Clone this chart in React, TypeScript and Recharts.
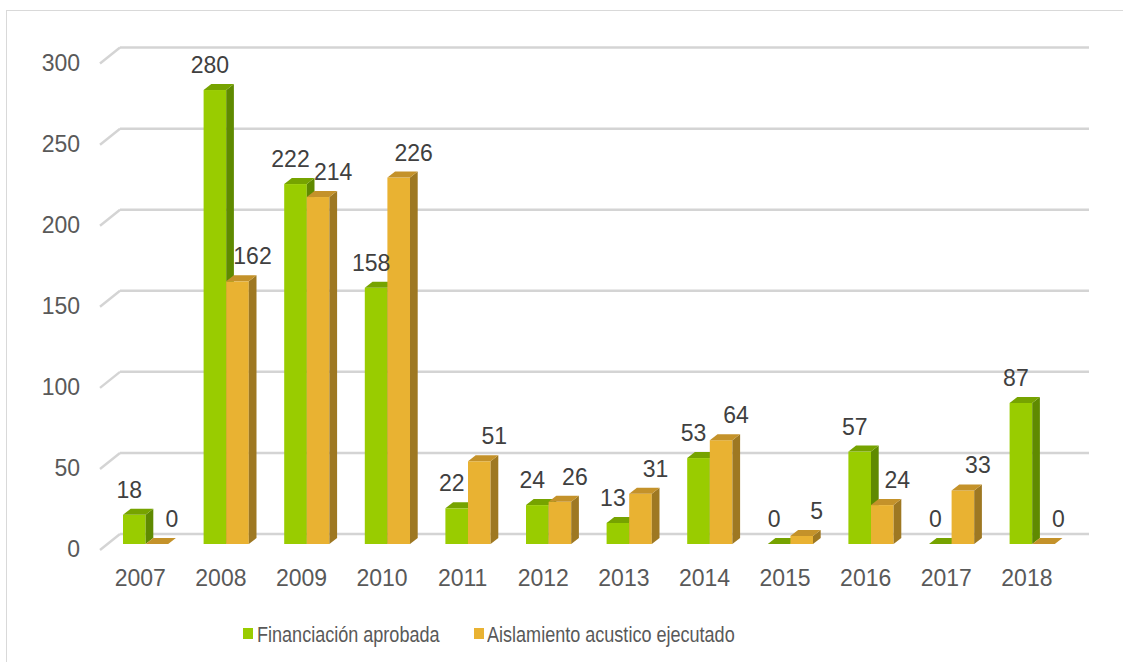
import React from "react";
import { BarChart, Bar, XAxis, YAxis, CartesianGrid, LabelList, Legend } from "recharts";

const years = ["2007", "2008", "2009", "2010", "2011", "2012", "2013", "2014", "2015", "2016", "2017", "2018"];
const financiacion = [18, 280, 222, 158, 22, 24, 13, 53, 0, 57, 0, 87];
const aislamiento = [0, 162, 214, 226, 51, 26, 31, 64, 5, 24, 33, 0];
const yTicks = [0, 50, 100, 150, 200, 250, 300];

const seriesNames = ["Financiación aprobada", "Aislamiento acustico ejecutado"];

const data = years.map((year, i) => ({
  year,
  financiacion: financiacion[i],
  aislamiento: aislamiento[i],
}));

// fake 3d look
const DX = 7.7;
const DY = 6;
const SHIFT_X = -3;

const GREEN = { front: "#99cc00", side: "#5f8a00", top: "#76a300" };
const ORANGE = { front: "#e9b232", side: "#9e7822", top: "#c4922a" };

const makeBar3D = (c: { front: string; side: string; top: string }) => (props: any) => {
  const { x, y, width, height } = props;
  const x0 = x + SHIFT_X;
  const h = Math.max(height || 0, 0);
  return (
    <g>
      <rect x={x0} y={y} width={width} height={h} fill={c.front} />
      <polygon
        points={`${x0 + width},${y} ${x0 + width + DX},${y - DY} ${x0 + width + DX},${y + h - DY} ${x0 + width},${y + h}`}
        fill={c.side}
      />
      <polygon
        points={`${x0},${y} ${x0 + DX},${y - DY} ${x0 + width + DX},${y - DY} ${x0 + width},${y}`}
        fill={c.top}
      />
    </g>
  );
};

const makeLabel = (offset: number) => (props: any) => {
  const { x, y, width, value } = props;
  return (
    <text
      x={x + SHIFT_X + width / 2 + offset}
      y={y - 17}
      textAnchor="middle"
      fontFamily="Liberation Sans, Arial, sans-serif"
      fontSize={23}
      fill="#404040"
    >
      {value}
    </text>
  );
};

const gridLine = (props: any) => {
  const { y1 } = props;
  return (
    <g key={props.key}>
      <line x1={100} y1={y1 + 6} x2={120} y2={y1 - 10} stroke="#d4d4d4" strokeWidth={2.5} />
      <line x1={120} y1={y1 - 10} x2={1089} y2={y1 - 10} stroke="#d4d4d4" strokeWidth={2.5} />
    </g>
  );
};

const YTick = (props: any) => {
  const { y, payload } = props;
  return (
    <text x={80} y={y + 13.3} textAnchor="end" fontFamily="Liberation Sans, Arial, sans-serif" fontSize={23} fill="#595959">
      {payload.value}
    </text>
  );
};

const XTick = (props: any) => {
  const { x, payload } = props;
  return (
    <text x={x - 8} y={585.5} textAnchor="middle" fontFamily="Liberation Sans, Arial, sans-serif" fontSize={23} fill="#595959">
      {payload.value}
    </text>
  );
};

const narrow: React.CSSProperties = {
  position: "absolute",
  top: 2,
  whiteSpace: "nowrap",
  lineHeight: "26px",
  transform: "scaleX(0.82)",
  transformOrigin: "left center",
};

const LegendContent = () => (
  <div style={{ position: "relative", height: 30, fontFamily: "Liberation Sans, Arial, sans-serif", fontSize: 22, color: "#595959" }}>
    <div style={{ position: "absolute", left: 243, top: 8, width: 10, height: 11, background: GREEN.front }} />
    <div style={{ ...narrow, left: 257 }}>{seriesNames[0]}</div>
    <div style={{ position: "absolute", left: 474, top: 8, width: 10, height: 11, background: ORANGE.front }} />
    <div style={{ ...narrow, left: 487 }}>{seriesNames[1]}</div>
  </div>
);

const App: React.FC = () => {
  return (
    <div style={{ position: "absolute", left: 0, top: 0, width: 1123, height: 662, background: "#fff", overflow: "hidden" }}>
      <div style={{ position: "absolute", left: 6, top: 10, width: 1200, height: 700, border: "1.5px solid #d9d9d9" }} />
      <BarChart
        width={1123}
        height={662}
        data={data}
        margin={{ top: 57.6, right: 47.8, bottom: 48, left: 48 }}
        barGap={0}
        barSize={22.6}
        style={{ position: "absolute", left: 0, top: 0 }}
      >
        <CartesianGrid vertical={false} horizontal={gridLine} />
        <XAxis dataKey="year" axisLine={false} tickLine={false} height={40} tick={<XTick />} interval={0} />
        <YAxis domain={[0, 300]} ticks={yTicks} width={60} axisLine={false} tickLine={false} tick={<YTick />} />
        <Legend
          content={<LegendContent />}
          wrapperStyle={{ position: "absolute", left: 0, top: 620, width: 1123, height: 30 }}
        />
        <Bar dataKey="financiacion" name={seriesNames[0]} fill={GREEN.front} shape={makeBar3D(GREEN)} isAnimationActive={false}>
          <LabelList dataKey="financiacion" content={makeLabel(-5)} />
        </Bar>
        <Bar dataKey="aislamiento" name={seriesNames[1]} fill={ORANGE.front} shape={makeBar3D(ORANGE)} isAnimationActive={false}>
          <LabelList dataKey="aislamiento" content={makeLabel(15)} />
        </Bar>
      </BarChart>
    </div>
  );
};

export default App;
